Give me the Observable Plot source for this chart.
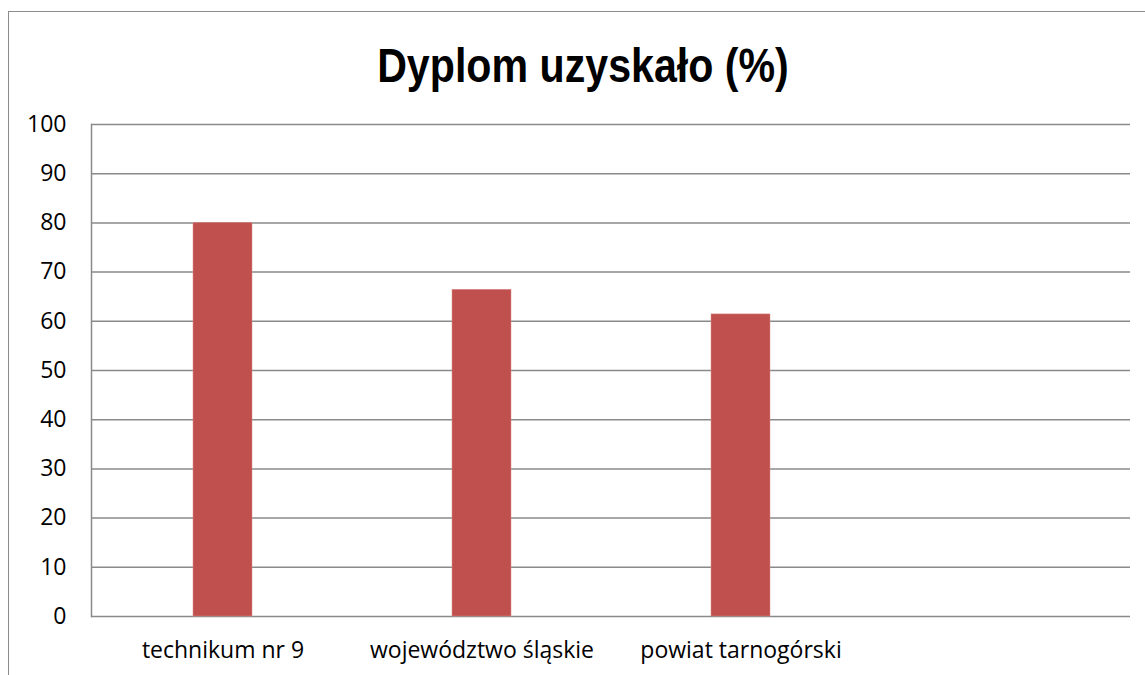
<!DOCTYPE html>
<html>
<head>
<meta charset="utf-8">
<script src="https://cdn.jsdelivr.net/npm/d3@7"></script>
<script src="https://cdn.jsdelivr.net/npm/@observablehq/plot@0.6"></script>
<style>
  html, body { margin: 0; padding: 0; background: #fff; width: 1145px; height: 675px; overflow: hidden; }
  #frame { position: absolute; left: 8px; top: 11px; width: 1200px; height: 700px; border-left: 1.5px solid #8c8c8c; border-top: 1.5px solid #8c8c8c; }
  #title { position: absolute; left: 0; width: 1166px; top: 40.5px; line-height: 49px; text-align: center; font-family: "Liberation Sans", Arial, sans-serif; font-weight: bold; font-size: 49px; color: #000; transform: scaleX(0.84); transform-origin: 583px 0; white-space: nowrap; }
  #chart { position: absolute; left: 0; top: 100px; }
</style>
</head>
<body>
<div id="frame"></div>
<div id="title">Dyplom uzyskało (%)</div>
<div id="chart"></div>
<script>
const categories = ["technikum nr 9", "województwo śląskie", "powiat tarnogórski", ""];
const values = [80, 66.4, 61.4, null];
const yTicks = [0, 10, 20, 30, 40, 50, 60, 70, 80, 90, 100];

const data = categories.map((c, i) => ({category: c, value: values[i]}));

const chart = Plot.plot({
  width: 1145,
  height: 575,
  marginLeft: 91,
  marginRight: 15,
  marginTop: 24,
  marginBottom: 59,
  style: {fontFamily: "'Open Sans', sans-serif", fontSize: "23px", color: "#000", background: "transparent"},
  x: {domain: categories, paddingInner: 0.773, paddingOuter: 0.3865, label: null},
  y: {domain: [0, 100], label: null},
  marks: [
    Plot.ruleY(yTicks, {stroke: "#8a8a8a", strokeWidth: 1.5}),
    Plot.barY(data.filter(d => d.value != null), {x: "category", y: "value", fill: "#C0504D", stroke: "#d98a88", strokeWidth: 0.5}),
    Plot.axisY({ticks: yTicks, tickSize: 0, tickPadding: 25, label: null, fill: "#000"}),
    Plot.axisX({tickSize: 0, tickPadding: 25, label: null, fill: "#000"}),
    Plot.frame({anchor: "left", stroke: "#8a8a8a", strokeWidth: 1.5, strokeOpacity: 1})
  ]
});
document.getElementById("chart").appendChild(chart);
</script>
</body>
</html>
